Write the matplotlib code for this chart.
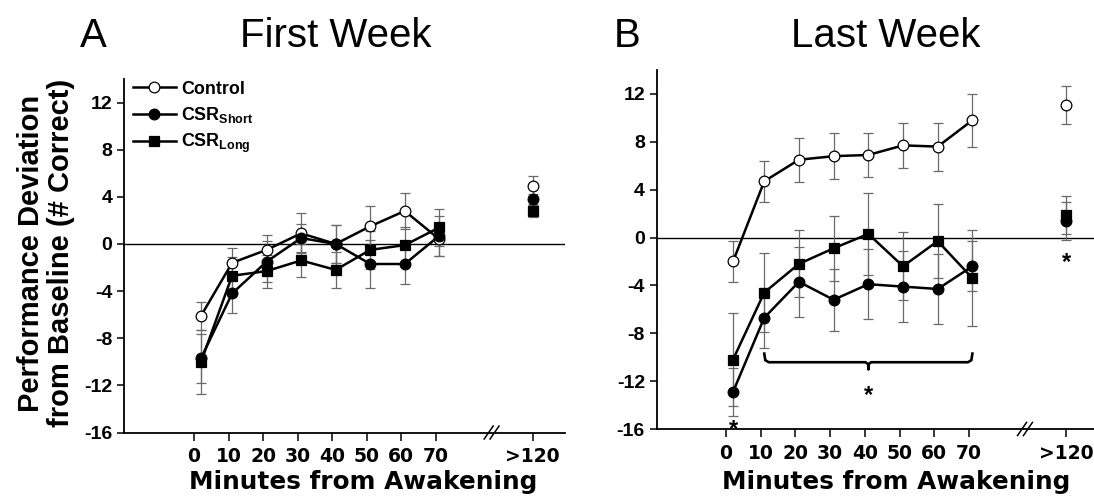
import matplotlib
matplotlib.use("Agg")
import matplotlib.pyplot as plt
import matplotlib.font_manager as fm

# minutes from awakening (points sit slightly right of the ticks)
x_min = [2, 11, 21, 31, 41, 51, 61, 71]
x_late = 98  # plotted position of ">120"
tick_pos = [0, 10, 20, 30, 40, 50, 60, 70, 98]
tick_lab = ["0", "10", "20", "30", "40", "50", "60", "70", ">120"]

# First week
ctrl_w1 = [-6.1, -1.6, -0.5, 0.9, 0.0, 1.5, 2.8, 0.4]
ctrl_w1_err = [1.2, 1.3, 1.3, 1.7, 1.6, 1.7, 1.5, 1.4]
ctrl_w1_late, ctrl_w1_late_err = 4.9, 0.85
short_w1 = [-9.7, -4.2, -1.5, 0.5, 0.0, -1.7, -1.7, 0.7]
short_w1_err = [2.1, 1.7, 1.75, 1.2, 1.6, 2.0, 1.7, 1.7]
short_w1_late, short_w1_late_err = 3.8, 0.4
long_w1 = [-10.0, -2.7, -2.3, -1.4, -2.2, -0.5, -0.1, 1.4]
long_w1_err = [2.7, 1.6, 1.4, 1.4, 1.5, 1.6, 1.5, 1.6]
long_w1_late, long_w1_late_err = 2.8, 0.5

# Last week
ctrl_w4 = [-2.0, 4.7, 6.5, 6.8, 6.9, 7.7, 7.6, 9.8]
ctrl_w4_err = [1.7, 1.7, 1.85, 1.9, 1.8, 1.9, 2.0, 2.2]
ctrl_w4_late, ctrl_w4_late_err = 11.1, 1.6
short_w4 = [-12.9, -6.7, -3.7, -5.2, -3.9, -4.1, -4.3, -2.4]
short_w4_err = [2.0, 2.5, 2.9, 2.6, 2.9, 2.95, 2.95, 2.1]
short_w4_late, short_w4_late_err = 1.4, 1.6
long_w4 = [-10.2, -4.6, -2.2, -0.9, 0.3, -2.4, -0.3, -3.4]
long_w4_err = [3.9, 3.3, 2.8, 2.7, 3.4, 2.85, 3.1, 4.0]
long_w4_late, long_w4_late_err = 1.9, 1.6

yticks = [-16, -12, -8, -4, 0, 4, 8, 12]


def has_font(name):
    try:
        fm.findfont(fm.FontProperties(family=name), fallback_to_default=False)
        return True
    except ValueError:
        return False


plt.rcParams["font.family"] = ["Liberation Sans", "DejaVu Sans"]
plt.rcParams["mathtext.fontset"] = "custom"
plt.rcParams["mathtext.rm"] = "Liberation Sans:bold"
plt.rcParams["mathtext.bf"] = "Liberation Sans:bold"

W, H = 1094, 504
fig = plt.figure(figsize=(W / 100, H / 100), dpi=100)
axA = fig.add_axes([124 / W, 1 - 432.5 / H, 441 / W, 353.5 / H])
axB = fig.add_axes([656.7 / W, 1 - 429 / H, 437.3 / W, 359 / H])

series_style = {
    "ctrl": dict(marker="o", ms=7.7, mfc="white", mec="black", mew=0.9),
    "short": dict(marker="o", ms=7.7, mfc="black", mec="black", mew=0.9),
    "long": dict(marker="s", ms=6.6, mfc="black", mec="black", mew=0.9),
}


def draw_panel(ax, data, xlim, label_y):
    handles = []
    for key, y, e, yl, el in data:
        st = series_style[key]
        ax.errorbar(x_min + [x_late], y + [yl], yerr=e + [el], fmt="none",
                    ecolor="#6a6a6a", elinewidth=0.9, capsize=3.3, capthick=0.9, zorder=2)
        h, = ax.plot(x_min, y, color="black", lw=1.8, zorder=3, **st)
        ax.plot([x_late], [yl], color="black", lw=0, zorder=3, **st)
        handles.append(h)
    ax.axhline(0, color="black", lw=1.0, zorder=1)
    ax.set_xlim(*xlim)
    ax.set_ylim(-16, 14)
    for s in ["top", "right"]:
        ax.spines[s].set_visible(False)
    for s in ["left", "bottom"]:
        ax.spines[s].set_linewidth(1.3)
    ax.set_xticks(tick_pos)
    ax.set_xticklabels(tick_lab, fontfamily="DejaVu Sans", fontweight="bold", fontsize=13.5)
    ax.set_yticks(yticks)
    ax.set_yticklabels([str(v) for v in yticks], fontweight="bold", fontsize=14)
    ax.tick_params(axis="x", direction="out", length=6, width=1.1, pad=4.5)
    ax.tick_params(axis="y", direction="out", length=5, width=1.1, pad=3.5)
    # axis break "//"
    for xb in (85.3, 87.0):
        ax.plot([xb - 1.3, xb + 1.3], [-16.55, -15.45], color="black", lw=1.1,
                clip_on=False, zorder=5)
    ax.text(49, label_y, "Minutes from Awakening",
            transform=ax.get_xaxis_transform(), ha="center", va="baseline",
            fontfamily="DejaVu Sans", fontweight="bold", fontsize=17.8)
    return handles


hA = draw_panel(axA, [
    ("ctrl", ctrl_w1, ctrl_w1_err, ctrl_w1_late, ctrl_w1_late_err),
    ("long", long_w1, long_w1_err, long_w1_late, long_w1_late_err),
    ("short", short_w1, short_w1_err, short_w1_late, short_w1_late_err),
], (-20.3, 107.4), -0.16)

draw_panel(axB, [
    ("ctrl", ctrl_w4, ctrl_w4_err, ctrl_w4_late, ctrl_w4_late_err),
    ("long", long_w4, long_w4_err, long_w4_late, long_w4_late_err),
    ("short", short_w4, short_w4_err, short_w4_late, short_w4_late_err),
], (-20.0, 106.05), -0.167)

axA.legend([hA[0], hA[2], hA[1]],
           ["Control", r"CSR$_{\mathrm{Short}}$", r"CSR$_{\mathrm{Long}}$"],
           loc="upper left", bbox_to_anchor=(0.02, 0.995), frameon=False,
           borderpad=0, borderaxespad=0, handlelength=2.4, handletextpad=0.3,
           labelspacing=0.4, prop=dict(weight="bold", size=12.9))

# significance brace + stars on the last-week panel
bx = [11, 11.3, 12.3, 40.2, 41, 41, 41, 41.8, 69.7, 70.7, 71]
by = [-9.7, -10.25, -10.42, -10.42, -10.6, -11.0, -10.6, -10.42, -10.42, -10.25, -9.7]
axB.plot(bx, by, color="black", lw=1.9, zorder=4)
star = dict(ha="center", va="baseline", fontweight="bold", fontsize=17)
axB.text(41, -13.75, "*", **star)
axB.text(2, -16.55, "*", **star)
axB.text(x_late, -2.65, "*", **star)

# y label
if has_font("Liberation Sans Narrow"):
    yl_font, yl_size = "Liberation Sans Narrow", 25.5
else:
    yl_font, yl_size = "Liberation Sans", 21
fig.text(46 / W, 1 - 253 / H, "Performance Deviation\nfrom Baseline (# Correct)",
         rotation=90, ha="center", va="center", multialignment="center",
         fontfamily=yl_font, fontweight="bold", fontsize=yl_size, linespacing=1.05)

# panel titles
ty = 1 - 46.7 / H
fig.text(93.5 / W, ty, "A", ha="center", va="baseline", fontsize=29)
fig.text(336 / W, ty, "First Week", ha="center", va="baseline", fontsize=29)
fig.text(627 / W, ty, "B", ha="center", va="baseline", fontsize=29)
fig.text(886 / W, ty, "Last Week", ha="center", va="baseline", fontsize=29)

fig.savefig("out.png", dpi=100)
